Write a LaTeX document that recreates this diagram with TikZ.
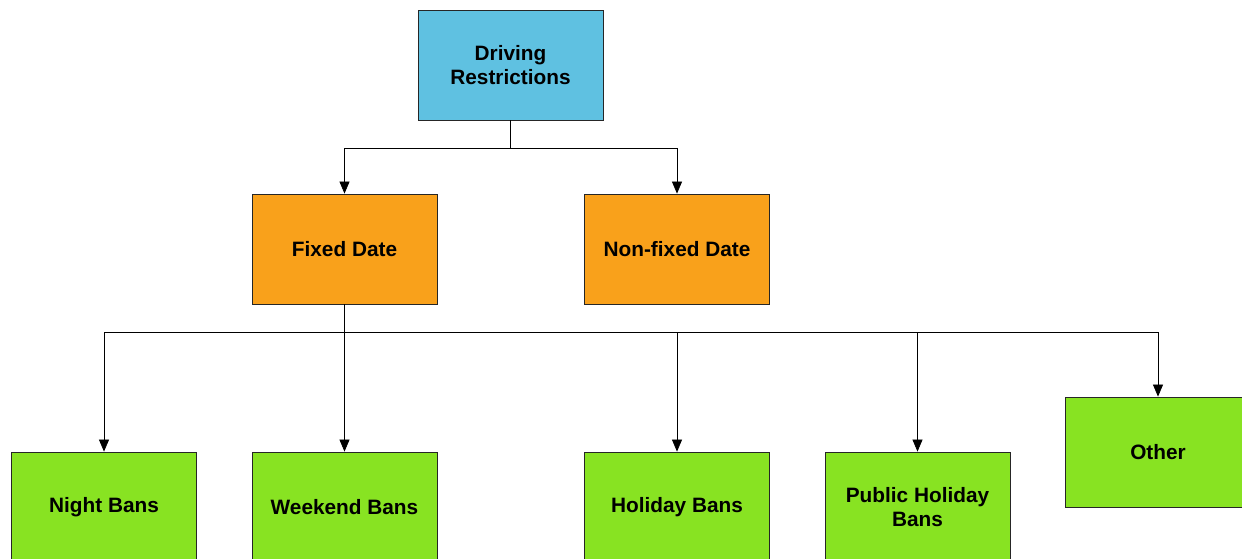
\documentclass[tikz,border=0pt]{standalone}
\usepackage{fontspec}
\setmainfont{Liberation Sans}
\usetikzlibrary{arrows.meta,calc}
\definecolor{rootblue}{HTML}{5FC1E1}
\definecolor{dateorange}{HTML}{F9A11B}
\definecolor{bangreen}{HTML}{88E322}
\begin{document}
\begin{tikzpicture}[x=1pt,y=-1pt,
    box/.style={draw=black!85, line width=0.8pt, minimum width=185pt, minimum height=110pt,
        inner sep=0pt, align=center, font=\fontsize{20.8}{24.5}\selectfont\bfseries},
    link/.style={line width=0.7pt, -{Triangle[width=10pt,length=12pt]}}]

    % Canvas (same size as the reference)
    \useasboundingbox (0,0) rectangle (1242,559);
    \clip (0,0) rectangle (1242,559);
    \fill[white] (0,0) rectangle (1242,559);

    % Top level
    \node[box, fill=rootblue] (root) at (510.5,65) {Driving\\Restrictions};

    % Second level
    \node[box, fill=dateorange] (fixed) at (344.5,249) {Fixed Date};
    \node[box, fill=dateorange] (nonfixed) at (677,249) {Non-fixed Date};

    % Bans
    \node[box, fill=bangreen] (night) at (104,507) {Night Bans};
    \node[box, fill=bangreen] (weekend) at (344.5,507) {Weekend Bans};
    \node[box, fill=bangreen] (holiday) at (677,507) {Holiday Bans};
    \node[box, fill=bangreen] (public) at (917.5,507) {Public Holiday\\Bans};
    \node[box, fill=bangreen] (other) at (1158,452) {Other};

    % Junctions
    \coordinate (rootjoin) at ($(root.south)+(0,28)$);
    \coordinate (fixedjoin) at ($(fixed.south)+(0,28)$);

    % Connectors
    \draw[line width=0.7pt] (root.south) -- (rootjoin);
    \foreach \target in {fixed, nonfixed}
        \draw[link] (rootjoin) -| (\target.north);

    \draw[line width=0.7pt] (fixed.south) -- (fixedjoin);
    \foreach \target in {night, weekend, holiday, public, other}
        \draw[link] (fixedjoin) -| (\target.north);

\end{tikzpicture}
\end{document}
